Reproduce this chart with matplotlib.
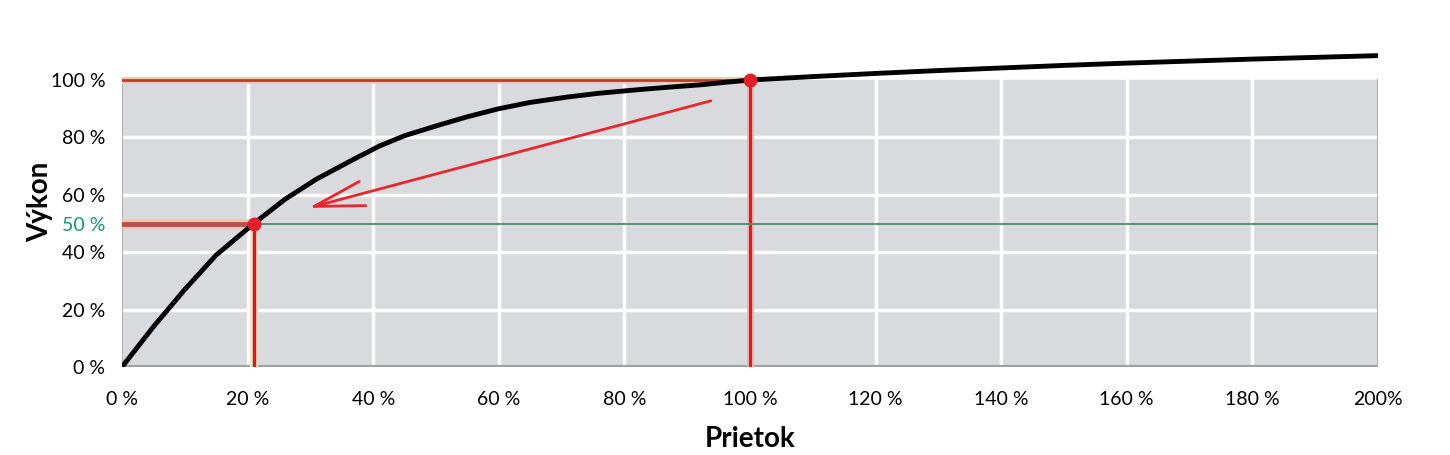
import matplotlib
matplotlib.use('Agg')
import matplotlib.pyplot as plt

plt.rcParams['font.family'] = ['Lato', 'DejaVu Sans']

# curve: flow (%) vs output (%)
flow = [0, 5, 10, 15, 21, 26, 31, 37, 41, 45, 50, 55, 60, 65, 71, 76, 82, 87, 92.5, 96, 100,
        110, 120, 130, 140, 150, 160, 170, 180, 190, 200]
power = [0, 14, 27, 39, 50, 58.5, 65.5, 72.5, 77, 80.6, 84.0, 87.2, 90.0, 92.2, 94.1, 95.4, 96.6, 97.5, 98.4, 99.2, 100,
         101.2, 102.3, 103.3, 104.2, 105.1, 105.9, 106.6, 107.3, 107.9, 108.5]

x_ticks = [0, 20, 40, 60, 80, 100, 120, 140, 160, 180, 200]
x_labels = ['0 %', '20 %', '40 %', '60 %', '80 %', '100 %', '120 %', '140 %', '160 %', '180 %', '200%']
y_ticks = [0, 20, 40, 50, 60, 80, 100]
y_labels = ['0 %', '20 %', '40 %', '50 %', '60 %', '80 %', '100 %']

# operating points
nominal = (100, 100)
reduced = (21, 50)
arrow_from = (94.2, 93)
arrow_to = (29.3, 55.2)

fig = plt.figure(figsize=(14.5, 4.55), dpi=100)
ax = fig.add_axes([0.0841, 0.1934, 0.8662, 0.7253])
ax.set_xlim(0, 200)
ax.set_ylim(0, 115)

# gray field below 100 %
ax.axhspan(0, 100, color='#d9dadd', zorder=0)
for yv in [20, 40, 60, 80]:
    ax.plot([0, 200], [yv, yv], color='white', lw=2.5, zorder=1)
for xv in x_ticks[1:-1]:
    ax.plot([xv, xv], [0, 100], color='white', lw=2.5, zorder=1)
ax.plot([0, 200], [0, 0], color='#a0a0a0', lw=3, zorder=2)
ax.plot([200, 200], [0, 100], color='#b0b0b0', lw=1.5, zorder=2)
ax.plot([0, 0], [0, 100], color='#b0b0b0', lw=1.5, zorder=2)

# guide lines
ax.plot([0, nominal[0]], [nominal[1], nominal[1]], color='#f6c9b0', lw=5, zorder=3)
ax.plot([0, nominal[0]], [nominal[1], nominal[1]], color='#c0392b', lw=2, zorder=3)
ax.plot([nominal[0], nominal[0]], [0, nominal[1]], color='#f8b0a8', lw=5, zorder=3)
ax.plot([nominal[0], nominal[0]], [0, nominal[1]], color='#d0202a', lw=2.2, zorder=3)
ax.plot([reduced[0], 200], [reduced[1], reduced[1]], color='#4f8a66', lw=1.3, zorder=3)
ax.plot([0, reduced[0]], [reduced[1], reduced[1]], color='#f5c4b0', lw=7, zorder=3)
ax.plot([0, reduced[0]], [reduced[1], reduced[1]], color='#b5514a', lw=3.5, zorder=3)
ax.plot([reduced[0], reduced[0]], [0, reduced[1]], color='#fbe3c8', lw=6, zorder=3)
ax.plot([reduced[0], reduced[0]], [0, reduced[1]], color='#c8202a', lw=2.5, zorder=3)

ax.plot(flow, power, color='black', lw=3.5, zorder=4, solid_capstyle='round',
        solid_joinstyle='round')
ax.plot([reduced[0], nominal[0]], [reduced[1], nominal[1]], 'o', color='#e0202a',
        ms=9, zorder=5, linestyle='none')

ax.annotate('', xy=arrow_to, xytext=arrow_from,
            arrowprops=dict(arrowstyle='->,head_length=3.6,head_width=0.9',
                            color='#e8262b', lw=2), zorder=5)

ax.set_xticks(x_ticks)
ax.set_xticklabels(x_labels, fontsize=14)
ax.set_yticks(y_ticks)
ax.set_yticklabels(y_labels, fontsize=14)
ax.get_yticklabels()[3].set_color('#12967a')
ax.tick_params(length=0)
ax.tick_params(axis='x', pad=17)
ax.tick_params(axis='y', pad=12)
for s in ax.spines.values():
    s.set_visible(False)

ax.set_xlabel('Prietok', fontsize=20, fontweight='bold', labelpad=13)
ax.set_ylabel('Výkon', fontsize=20, fontweight='bold', labelpad=-2)

fig.savefig('out.png', dpi=100)
